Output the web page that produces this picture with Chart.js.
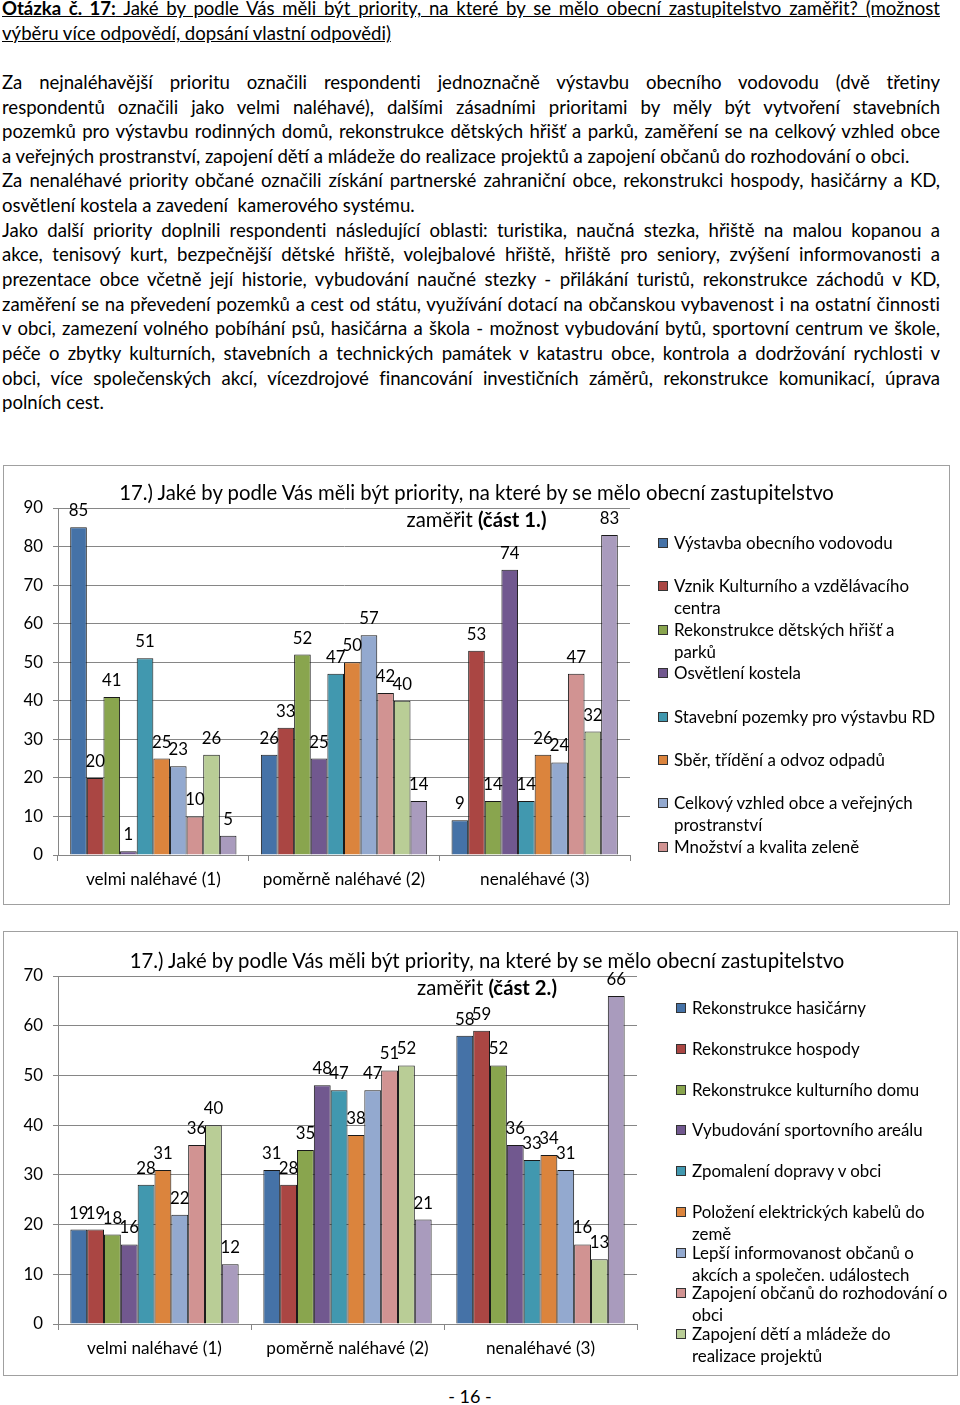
<!DOCTYPE html>
<html>
<head>
<meta charset="utf-8">
<script src="https://cdn.jsdelivr.net/npm/chart.js@4.4.1/dist/chart.umd.min.js"></script>
<style>
body{margin:0;width:960px;height:1405px;background:#fff;font-family:Lato,sans-serif;color:#000;position:relative;overflow:hidden}
#text{position:absolute;left:2px;top:-4px;width:938px;font-size:18.6px}
.ln{height:24.65px;line-height:24.65px;overflow:hidden}
.j{text-align:justify;text-align-last:justify}
.u{text-decoration:underline}
.box{position:absolute;border:1px solid #a0a0a0;box-sizing:border-box}
.box canvas{position:absolute;left:0;top:0}
.title{position:absolute;left:0;text-align:center;font-size:20.3px;line-height:27px}
.leg{position:absolute;font-size:16.9px;line-height:22px;white-space:pre-line}
.leg i{position:absolute;left:0;top:6px;width:10px;height:10px;border:1px solid #333;box-sizing:border-box}
#page{position:absolute;left:0;width:940px;top:1385px;text-align:center;font-size:18px}
</style>
</head>
<body>
<div id="text">
  <div class="ln j u"><b>Otázka č. 17:</b> Jaké by podle Vás měli být priority, na které by se mělo obecní zastupitelstvo zaměřit? (možnost</div>
  <div class="ln"><span class="u">výběru více odpovědí, dopsání vlastní odpovědi)</span></div>
  <div class="ln"></div>
  <div class="ln j">Za nejnaléhavější prioritu označili respondenti jednoznačně výstavbu obecního vodovodu (dvě třetiny</div>
  <div class="ln j">respondentů označili jako velmi naléhavé), dalšími zásadními prioritami by měly být vytvoření stavebních</div>
  <div class="ln j">pozemků pro výstavbu rodinných domů, rekonstrukce dětských hřišť a parků, zaměření se na celkový vzhled obce</div>
  <div class="ln">a veřejných prostranství, zapojení dětí a mládeže do realizace projektů a zapojení občanů do rozhodování o obci.</div>
  <div class="ln j">Za nenaléhavé priority občané označili získání partnerské zahraniční obce, rekonstrukci hospody, hasičárny a KD,</div>
  <div class="ln">osvětlení kostela a zavedení&nbsp; kamerového systému.</div>
  <div class="ln j">Jako další priority doplnili respondenti následující oblasti: turistika, naučná stezka, hřiště na malou kopanou a</div>
  <div class="ln j">akce, tenisový kurt, bezpečnější dětské hřiště, volejbalové hřiště, hřiště pro seniory, zvýšení informovanosti a</div>
  <div class="ln j">prezentace obce včetně její historie, vybudování naučné stezky - přilákání turistů, rekonstrukce záchodů v KD,</div>
  <div class="ln j">zaměření se na převedení pozemků a cest od státu, využívání dotací na občanskou vybavenost i na ostatní činnosti</div>
  <div class="ln j">v obci, zamezení volného pobíhání psů, hasičárna a škola - možnost vybudování bytů, sportovní centrum ve škole,</div>
  <div class="ln j">péče o zbytky kulturních, stavebních a technických památek v katastru obce, kontrola a dodržování rychlosti v</div>
  <div class="ln j">obci, více společenských akcí, vícezdrojové financování investičních záměrů, rekonstrukce komunikací, úprava</div>
  <div class="ln">polních cest.</div>
</div>

<div class="box" style="left:3px;top:465px;width:947px;height:440px">
  <canvas id="chart1" width="945" height="438"></canvas>
  <div class="title" style="top:13px;width:945px">17.) Jaké by podle Vás měli být priority, na které by se mělo obecní zastupitelstvo<br>zaměřit <b>(část 1.)</b></div>
</div>
<div class="box" style="left:3px;top:931px;width:955px;height:445px">
  <canvas id="chart2" width="953" height="443"></canvas>
  <div class="title" style="top:15px;width:953px;padding-left:13px;box-sizing:border-box">17.) Jaké by podle Vás měli být priority, na které by se mělo obecní zastupitelstvo<br>zaměřit <b>(část 2.)</b></div>
</div>
<div id="legend1"></div>
<div id="legend2"></div>
<div id="page">- 16 -</div>

<script>
/* shared */
const categories = ['velmi naléhavé (1)', 'poměrně naléhavé (2)', 'nenaléhavé (3)']
const colors = ['#4572A7', '#AA4643', '#89A54E', '#71588F', '#4198AF', '#DB843D', '#93A9CF', '#D19392', '#B9CD96', '#A99BBD']

/* part 1 */
const labels1 = [
  'Výstavba obecního vodovodu',
  'Vznik Kulturního a vzdělávacího\ncentra',
  'Rekonstrukce dětských hřišť a\nparků',
  'Osvětlení kostela',
  'Stavební pozemky pro výstavbu RD',
  'Sběr, třídění a odvoz odpadů',
  'Celkový vzhled obce a veřejných\nprostranství',
  'Množství a kvalita zeleně',
  'Zapojení dětí a mládeže do realizace projektů',
  'Získání partnerské zahraniční obce'
]
const vodovod = [85, 26, 9]
const kulturniCentrum = [20, 33, 53]
const detskaHriste = [41, 52, 14]
const osvetleniKostela = [1, 25, 74]
const stavebniPozemky = [51, 47, 14]
const odpady = [25, 50, 26]
const vzhledObce = [23, 57, 24]
const zelen = [10, 42, 47]
const zapojeniDeti1 = [26, 40, 32]
const partnerskaObec = [5, 14, 83]
const values1 = [vodovod, kulturniCentrum, detskaHriste, osvetleniKostela, stavebniPozemky, odpady, vzhledObce, zelen, zapojeniDeti1, partnerskaObec]
const shown1 = 8

/* part 2 */
const labels2 = [
  'Rekonstrukce hasičárny',
  'Rekonstrukce hospody',
  'Rekonstrukce kulturního domu',
  'Vybudování sportovního areálu',
  'Zpomalení dopravy v obci',
  'Položení elektrických kabelů do\nzemě',
  'Lepší informovanost občanů o\nakcích a společen. událostech',
  'Zapojení občanů do rozhodování o\nobci',
  'Zapojení dětí a mládeže do\nrealizace projektů',
  'Zavedení kamerového systému'
]
const hasicarna = [19, 31, 58]
const hospoda = [19, 28, 59]
const kulturniDum = [18, 35, 52]
const sportovniAreal = [16, 48, 36]
const doprava = [28, 47, 33]
const kabely = [31, 38, 34]
const informovanost = [22, 47, 31]
const zapojeniObcanu = [36, 51, 16]
const zapojeniDeti2 = [40, 52, 13]
const kamery = [12, 21, 66]
const values2 = [hasicarna, hospoda, kulturniDum, sportovniAreal, doprava, kabely, informovanost, zapojeniObcanu, zapojeniDeti2, kamery]
const shown2 = 9

/* keep each justified line on one row (squeeze letters if it would wrap) */
document.querySelectorAll('#text .ln').forEach(el => {
  const span = document.createElement('span')
  span.style.whiteSpace = 'nowrap'
  span.innerHTML = el.innerHTML
  el.innerHTML = ''
  el.appendChild(span)
  const w = span.getBoundingClientRect().width
  const max = el.clientWidth - 1
  if (w > max) {
    el.style.letterSpacing = ((max - w) / span.textContent.length - 0.02) + 'px'
  }
  el.innerHTML = span.innerHTML
})

/* value labels above bars */
const valueLabels = {
  id: 'valueLabels',
  afterDatasetsDraw(chart) {
    const ctx = chart.ctx
    ctx.save()
    ctx.font = '16.8px Lato'
    ctx.fillStyle = '#000'
    ctx.textAlign = 'center'
    ctx.textBaseline = 'alphabetic'
    chart.data.datasets.forEach((ds, i) => {
      chart.getDatasetMeta(i).data.forEach((bar, j) => {
        ctx.fillText(ds.data[j], bar.x, bar.y - 11)
      })
    })
    ctx.restore()
  }
}

function makeChart(id, labels, values, max, pad, xHeight) {
  const datasets = values.map((v, i) => ({
    label: labels[i].replace('\n', ' '),
    data: v,
    backgroundColor: colors[i],
    borderColor: '#1a1a1a',
    borderWidth: 1,
    categoryPercentage: 0.872,
    barPercentage: 1
  }))
  return new Chart(document.getElementById(id), {
    type: 'bar',
    data: { labels: categories, datasets: datasets },
    options: {
      responsive: false,
      animation: false,
      devicePixelRatio: 1,
      layout: { padding: pad },
      plugins: { legend: { display: false }, title: { display: false }, tooltip: { enabled: false } },
      scales: {
        x: {
          grid: { drawOnChartArea: false, tickLength: 6, color: '#868686', offset: true },
          border: { color: '#868686' },
          ticks: { color: '#000', font: { family: 'Lato', size: 17.2 }, padding: 8 },
          afterFit(s) { s.height = xHeight }
        },
        y: {
          min: 0,
          max: max,
          ticks: { stepSize: 10, color: '#000', font: { family: 'Lato', size: 16.8 }, padding: 10 },
          grid: { color: '#868686', tickLength: 5 },
          border: { color: '#868686' },
          afterFit(s) { s.width = 54 }
        }
      }
    },
    plugins: [valueLabels]
  })
}

makeChart('chart1', labels1, values1, 90, { top: 42, right: 319, bottom: 0, left: 0 }, 49)
makeChart('chart2', labels2, values2, 70, { top: 44, right: 320, bottom: 0, left: 0 }, 51)

/* html legends */
function buildLegend(id, labels, count, left, top0, step) {
  const el = document.getElementById(id)
  for (let i = 0; i < count; i++) {
    const d = document.createElement('div')
    d.className = 'leg'
    d.style.left = left + 'px'
    d.style.top = (top0 + step * i - 11) + 'px'
    d.style.paddingLeft = '16px'
    d.innerHTML = '<i style="background:' + colors[i] + '"></i>'
    d.appendChild(document.createTextNode(labels[i]))
    el.appendChild(d)
  }
}
buildLegend('legend1', labels1, shown1, 658, 543, 43.4)
buildLegend('legend2', labels2, shown2, 676, 1008, 40.75)
</script>
</body>
</html>
